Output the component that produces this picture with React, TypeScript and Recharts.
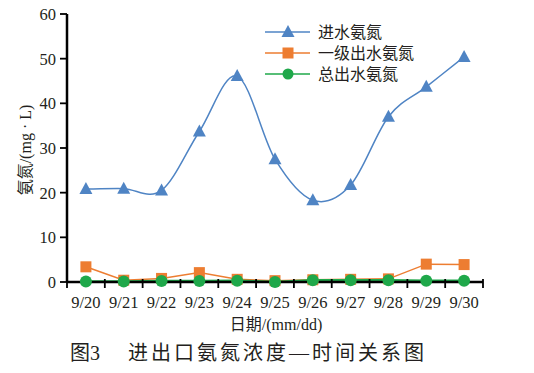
import React from 'react'
import { LineChart, Line, XAxis, YAxis } from 'recharts'

const dates = ['9/20', '9/21', '9/22', '9/23', '9/24', '9/25', '9/26', '9/27', '9/28', '9/29', '9/30']
const influent = [20.8, 20.9, 20.5, 33.7, 46.1, 27.5, 18.3, 21.7, 37.0, 43.7, 50.4]
const primaryEffluent = [3.4, 0.4, 0.8, 2.1, 0.6, 0.3, 0.5, 0.6, 0.7, 4.0, 3.9]
const finalEffluent = [0.1, 0.1, 0.2, 0.2, 0.3, 0.0, 0.4, 0.4, 0.4, 0.3, 0.3]
const yTicks = [0, 10, 20, 30, 40, 50, 60]
const seriesNames = ['进水氨氮', '一级出水氨氮', '总出水氨氮']

const data = dates.map((date, i) => ({
  date,
  influent: influent[i],
  primary: primaryEffluent[i],
  final: finalEffluent[i],
}))

const W = 534
const H = 373
const PLOT_LEFT = 67
const PLOT_RIGHT = 483
const PLOT_TOP = 14
const PLOT_BOTTOM = 282
const BW = (PLOT_RIGHT - PLOT_LEFT) / dates.length

const BLUE = '#4f84c4'
const ORANGE = '#ed7d31'
const GREEN = '#1fa84a'
const SERIF = "'Liberation Serif', 'Times New Roman', 'Noto Sans CJK SC', serif"
const TEXT = '#231f20'

// smooth line like the spreadsheet "smoothed line" (catmull-rom)
const catmullRom = (context: any) => {
  let pts: number[][] = []
  return {
    areaStart() {},
    areaEnd() {},
    lineStart() {
      pts = []
    },
    point(x: number, y: number) {
      pts.push([+x, +y])
    },
    lineEnd() {
      const n = pts.length
      if (!n) return
      context.moveTo(pts[0][0], pts[0][1])
      for (let i = 0; i < n - 1; i++) {
        const p0 = pts[i - 1] || pts[i]
        const p1 = pts[i]
        const p2 = pts[i + 1]
        const p3 = pts[i + 2] || p2
        context.bezierCurveTo(
          p1[0] + (p2[0] - p0[0]) / 6,
          p1[1] + (p2[1] - p0[1]) / 6,
          p2[0] - (p3[0] - p1[0]) / 6,
          p2[1] - (p3[1] - p1[1]) / 6,
          p2[0],
          p2[1]
        )
      }
    },
  }
}

function TriangleDot({ cx, cy, index }: any) {
  if (cx == null || cy == null) return null
  return <path key={`t${index}`} d={`M${cx},${cy - 7} L${cx + 6.5},${cy + 5} L${cx - 6.5},${cy + 5} Z`} fill={BLUE} />
}

function SquareDot({ cx, cy, index }: any) {
  if (cx == null || cy == null) return null
  return <rect key={`s${index}`} x={cx - 5.5} y={cy - 5.5} width={11} height={11} fill={ORANGE} />
}

function CircleDot({ cx, cy, index }: any) {
  if (cx == null || cy == null) return null
  return <circle key={`c${index}`} cx={cx} cy={cy} r={6} fill={GREEN} />
}

function DateTick({ x, y, payload, index }: any) {
  return (
    <g>
      <line x1={x - BW / 2} x2={x - BW / 2} y1={y - 3} y2={y + 6} stroke="#000" strokeWidth={1.8} />
      {index === dates.length - 1 && (
        <line x1={x + BW / 2} x2={x + BW / 2} y1={y - 3} y2={y + 6} stroke="#000" strokeWidth={1.8} />
      )}
      <text x={x} y={y + 26} textAnchor="middle" fontSize={16.5} fontFamily={SERIF} fill={TEXT}>
        {payload.value}
      </text>
    </g>
  )
}

export default function App() {
  const legendRows = [
    { name: seriesNames[0], color: BLUE, marker: 'tri' },
    { name: seriesNames[1], color: ORANGE, marker: 'sq' },
    { name: seriesNames[2], color: GREEN, marker: 'ci' },
  ]

  return (
    <div style={{ position: 'absolute', left: 0, top: 0, width: W, height: H, background: '#fff' }}>
      <LineChart
        width={W}
        height={H}
        data={data}
        margin={{ top: PLOT_TOP, right: W - PLOT_RIGHT, bottom: H - PLOT_BOTTOM - 30, left: PLOT_LEFT - 60 }}
      >
        <XAxis
          dataKey="date"
          interval={0}
          height={30}
          padding={{ left: BW / 2, right: BW / 2 }}
          tickLine={false}
          tickSize={0}
          tickMargin={0}
          tick={<DateTick />}
          axisLine={{ stroke: '#000', strokeWidth: 2.5 }}
        />
        <XAxis
          xAxisId="top"
          dataKey="date"
          orientation="top"
          height={0}
          tick={false}
          tickLine={false}
          axisLine={{ stroke: '#000', strokeWidth: 2 }}
        />
        <YAxis
          domain={[0, 60]}
          ticks={yTicks}
          width={60}
          tickSize={7}
          tickMargin={4}
          tick={{ fontSize: 16.5, fontFamily: SERIF, fill: TEXT }}
          tickLine={{ stroke: '#000', strokeWidth: 1.8 }}
          axisLine={{ stroke: '#000', strokeWidth: 2.5 }}
        />
        <YAxis
          yAxisId="r"
          orientation="right"
          domain={[0, 60]}
          width={0}
          tick={false}
          tickLine={false}
          axisLine={{ stroke: '#444', strokeWidth: 2 }}
        />
        <Line
          dataKey="influent"
          name={seriesNames[0]}
          type={catmullRom as any}
          stroke={BLUE}
          strokeWidth={1.5}
          dot={TriangleDot}
          isAnimationActive={false}
        />
        <Line
          dataKey="primary"
          name={seriesNames[1]}
          type="linear"
          stroke={ORANGE}
          strokeWidth={1.5}
          dot={SquareDot}
          isAnimationActive={false}
        />
        <Line
          dataKey="final"
          name={seriesNames[2]}
          type="linear"
          stroke={GREEN}
          strokeWidth={2.5}
          dot={CircleDot}
          isAnimationActive={false}
        />
      </LineChart>
      <svg
        width={W}
        height={H}
        style={{ position: 'absolute', left: 0, top: 0, pointerEvents: 'none' }}
      >
        {legendRows.map((r, i) => {
          const cy = 32 + i * 21
          const mx = 288
          return (
            <g key={r.name}>
              <line x1={265} x2={310} y1={cy} y2={cy} stroke={r.color} strokeWidth={1.5} />
              {r.marker === 'tri' && (
                <path d={`M${mx},${cy - 7} L${mx + 6.5},${cy + 5} L${mx - 6.5},${cy + 5} Z`} fill={r.color} />
              )}
              {r.marker === 'sq' && <rect x={mx - 5.5} y={cy - 5.5} width={11} height={11} fill={r.color} />}
              {r.marker === 'ci' && <circle cx={mx} cy={cy} r={5.5} fill={r.color} />}
              <text x={318} y={cy} dominantBaseline="central" fontSize={16} fontFamily={SERIF} fill={TEXT}>
                {r.name}
              </text>
            </g>
          )
        })}
        <text
          transform="translate(25,150) rotate(-90)"
          textAnchor="middle"
          dominantBaseline="central"
          fontSize={16}
          fontFamily={SERIF}
          fill={TEXT}
        >
          氨氮/(mg · L)
        </text>
        <text x={276} y={324} textAnchor="middle" dominantBaseline="central" fontSize={16} fontFamily={SERIF} fill={TEXT}>
          日期/(mm/dd)
        </text>
        <text x={70} y={353} dominantBaseline="central" fontSize={20} fontFamily={SERIF} fill={TEXT}>
          图3
        </text>
        <text
          x={128}
          y={353}
          dominantBaseline="central"
          fontSize={20}
          fontFamily={SERIF}
          fill={TEXT}
          letterSpacing={3}
        >
          进出口氨氮浓度—时间关系图
        </text>
      </svg>
    </div>
  )
}
